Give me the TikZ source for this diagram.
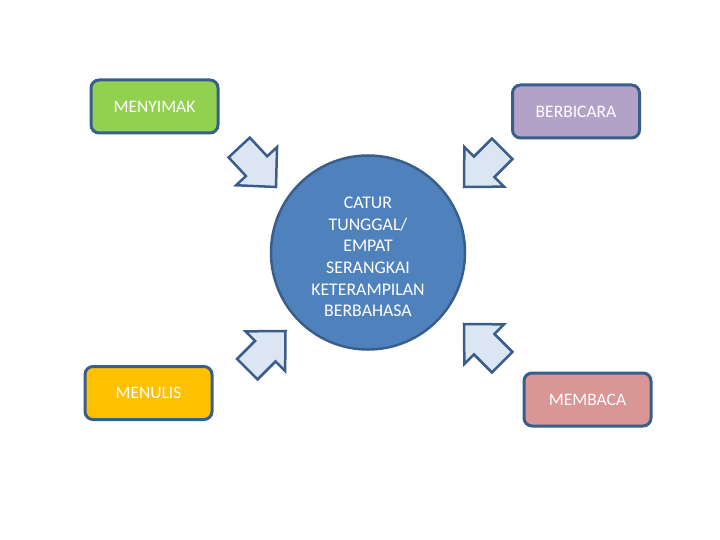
\documentclass[tikz,border=0pt]{standalone}
\usepackage{fontspec}
\setmainfont{Carlito}
\definecolor{bord}{HTML}{3A5E8C}
\definecolor{cgreen}{HTML}{92D050}
\definecolor{cpurple}{HTML}{B3A2C7}
\definecolor{corange}{HTML}{FFC000}
\definecolor{cpink}{HTML}{D99694}
\definecolor{cblue}{HTML}{4F81BD}
\definecolor{carrow}{HTML}{DCE6F2}
\tikzset{
  box/.style={draw=bord, line width=3pt, rounded corners=8pt, minimum width=127pt,
    minimum height=53pt, inner sep=0pt, text=white, font=\fontsize{17.5}{21.5}\selectfont},
  arr/.style={draw=bord, line width=2.5pt, fill=carrow},
  barrow/.pic={\draw[arr] (0,0) -- (-28.5,-28) -- (-28.5,-14.5) -- (-54,-14.5) -- (-54,14.5) -- (-28.5,14.5) -- (-28.5,28) -- cycle;}
}
\begin{document}
\begin{tikzpicture}[x=1pt,y=-1pt]
\useasboundingbox[fill=white] (0,0) rectangle (720,540);
\node[box, fill=cgreen] (menyimak) at (154.5,106.5) {MENYIMAK};
\node[box, fill=cpurple] (berbicara) at (576,111.5) {BERBICARA};
\node[box, fill=corange] (menulis) at (148.5,393) {MENULIS};
\node[box, fill=cpink] (membaca) at (587.5,399.5) {MEMBACA};
\node[circle, draw=bord, line width=2.5pt, fill=cblue, minimum size=194pt, inner sep=0pt] (pusat) at (368,252.5) {};
\node[align=center, text=white, inner sep=0pt, font=\fontsize{17.8}{21.6}\selectfont] (pusatteks) at (368,257)
  {CATUR\\TUNGGAL/\\EMPAT\\SERANGKAI\\KETERAMPILAN\\BERBAHASA};
\pic[rotate=-47] at (276,187) {barrow};
\pic[rotate=-135] at (464,187) {barrow};
\pic[rotate=45] at (285.5,331) {barrow};
\pic[rotate=135] at (464,324) {barrow};
\end{tikzpicture}
\end{document}
